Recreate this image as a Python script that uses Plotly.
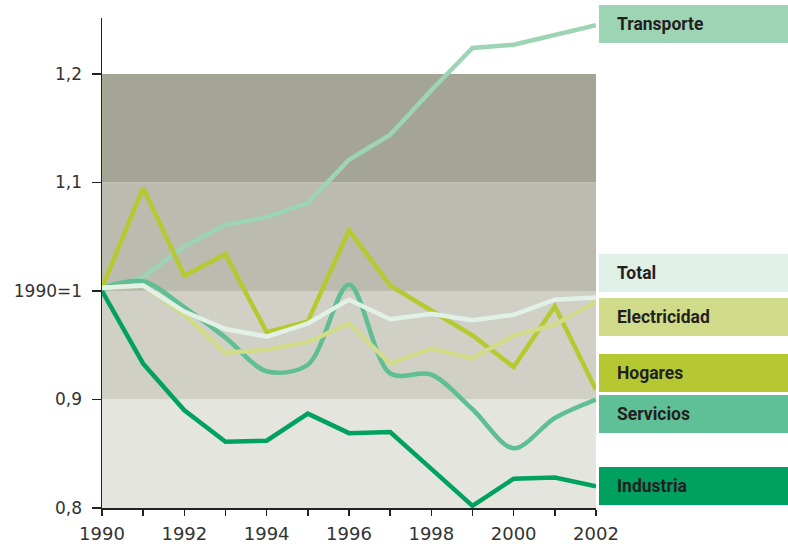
import plotly.graph_objects as go

years = list(range(1990, 2003))

transporte   = [1.000, 1.013, 1.041, 1.061, 1.068, 1.081, 1.121, 1.144, 1.185, 1.224, 1.227, 1.236, 1.245]
total        = [1.003, 1.005, 0.981, 0.965, 0.958, 0.970, 0.992, 0.974, 0.979, 0.973, 0.978, 0.992, 0.994]
electricidad = [1.003, 1.005, 0.978, 0.943, 0.946, 0.953, 0.970, 0.933, 0.947, 0.938, 0.959, 0.969, 0.990]
hogares      = [1.003, 1.095, 1.014, 1.034, 0.962, 0.972, 1.056, 1.005, 0.982, 0.959, 0.930, 0.986, 0.909]
servicios    = [1.003, 1.009, 0.985, 0.957, 0.926, 0.932, 1.006, 0.924, 0.923, 0.891, 0.855, 0.883, 0.900]
industria    = [1.000, 0.933, 0.890, 0.861, 0.862, 0.887, 0.869, 0.870, 0.836, 0.802, 0.827, 0.828, 0.820]

y_tickvals = [0.8, 0.9, 1.0, 1.1, 1.2]
y_ticktext = ["0,8", "0,9", "1990=1", "1,1", "1,2"]
x_ticktext = [str(y) if y % 2 == 0 else "" for y in years]

band_edges = [0.8, 0.9, 1.0, 1.1, 1.2]
band_colors = ["#e5e5e0", "#d1d0c7", "#bcbbb0", "#a5a595"]

series = [
    ("Transporte", transporte, "#9dd4b4", "linear"),
    ("Industria", industria, "#00a25e", "linear"),
    ("Servicios", servicios, "#60be94", "spline"),
    ("Hogares", hogares, "#b5ca30", "linear"),
    ("Electricidad", electricidad, "#d0dc8a", "linear"),
    ("Total", total, "#e2f1e7", "linear"),
]

# legend boxes (label, fill, top px, bottom px)
legend_boxes = [
    ("Transporte", "#9dd4b4", 5, 43),
    ("Total", "#e0f0e6", 254, 292),
    ("Electricidad", "#d0db8a", 298, 336),
    ("Hogares", "#b5c832", 354, 392),
    ("Servicios", "#5fbf96", 395, 433),
    ("Industria", "#00a060", 467, 505),
]

W, H = 788, 546
ML, MR, MT, MB = 102, 192, 18, 38
PW, PH = W - ML - MR, H - MT - MB

def px_x(px):
    return (px - ML) / PW

def px_y(py):
    return 1 - (py - MT) / PH

fig = go.Figure()
for name, vals, color, shape in series:
    fig.add_trace(go.Scatter(
        x=years, y=vals, mode="lines", name=name,
        line=dict(color=color, width=4.5, shape=shape, smoothing=0.9 if shape == "spline" else None),
        showlegend=False, hoverinfo="skip",
    ))

shapes = []
for i, c in enumerate(band_colors):
    shapes.append(dict(type="rect", xref="x", yref="y", x0=years[0], x1=years[-1],
                       y0=band_edges[i], y1=band_edges[i + 1], fillcolor=c,
                       line=dict(width=0), layer="below"))

annotations = []
for label, fill, top, bot in legend_boxes:
    shapes.append(dict(type="rect", xref="paper", yref="paper",
                       x0=px_x(599), x1=px_x(790), y0=px_y(bot), y1=px_y(top),
                       fillcolor=fill, line=dict(width=0), layer="above"))
    annotations.append(dict(xref="paper", yref="paper", x=px_x(615), y=px_y((top + bot) / 2),
                            text=label, showarrow=False, xanchor="left", yanchor="middle",
                            font=dict(family="Roboto, sans-serif",
                                      size=17.5, color="#231f20", weight="bold")))

fig.update_layout(
    width=W, height=H,
    margin=dict(l=ML, r=MR, t=MT, b=MB, autoexpand=False),
    paper_bgcolor="white", plot_bgcolor="white",
    shapes=shapes, annotations=annotations,
    xaxis=dict(range=[1990, 2002], tickvals=years, ticktext=x_ticktext, automargin=False,
               ticks="outside", ticklen=6, tickwidth=1.5, tickcolor="#222",
               showline=True, linecolor="#222", linewidth=1.5, showgrid=False, zeroline=False,
               tickfont=dict(family="DejaVu Sans", size=18, color="#333"), ticklabelstandoff=3),
    yaxis=dict(range=[0.8, 1.2516], tickvals=y_tickvals, ticktext=y_ticktext, automargin=False,
               ticks="outside", ticklen=9, tickwidth=1.5, tickcolor="#222",
               showline=True, linecolor="#222", linewidth=1.5, showgrid=False, zeroline=False,
               tickfont=dict(family="DejaVu Sans", size=17, color="#333"), ticklabelstandoff=6),
)

fig.write_html("out.html", config={"displayModeBar": False, "staticPlot": True},
               post_script="document.body.style.margin='0';document.body.style.padding='0';"
                           "document.body.style.overflow='hidden';")
